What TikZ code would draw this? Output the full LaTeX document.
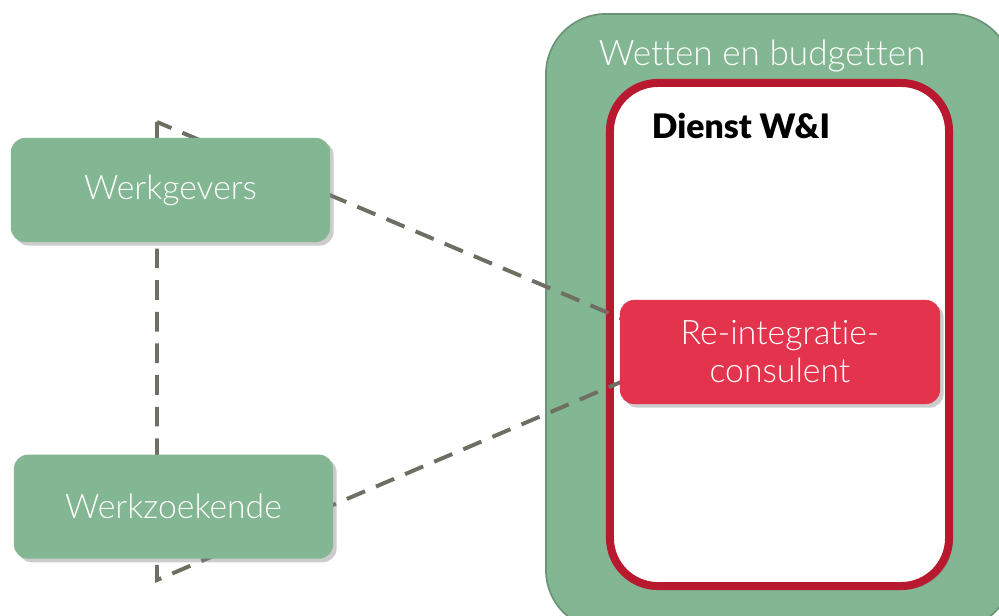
\documentclass[tikz,border=0pt]{standalone}
\usepackage{fontspec}
\setmainfont{Lato}[UprightFont=* Light, BoldFont=* Black, Ligatures=NoCommon]
\usetikzlibrary{positioning,shadows}

\definecolor{groen}{HTML}{83B692}
\definecolor{donkergroen}{HTML}{6B9477}
\definecolor{bordeaux}{HTML}{B8192F}
\definecolor{rood}{HTML}{E4334C}
\definecolor{lijn}{HTML}{6F6E62}

\tikzstyle{schaduw} = [drop shadow={shadow xshift=0.09cm, shadow yshift=-0.09cm, opacity=0.4}]
\tikzstyle{block} = [rectangle, fill=groen, text=white, schaduw,
    rounded corners=0.35cm, minimum width=7.975cm, minimum height=2.6cm,
    align=center, font=\fontsize{24}{27}\selectfont]
\tikzstyle{kader} = [rectangle, fill=groen, draw=donkergroen, line width=1.2pt,
    rounded corners=1.5cm, minimum width=11.65cm, minimum height=15.4cm]
\tikzstyle{dienstkader} = [rectangle, fill=white, draw=bordeaux, line width=0.2cm,
    rounded corners=1.2cm, minimum width=8.475cm, minimum height=12.575cm, schaduw]
\tikzstyle{stippel} = [draw=lijn, line width=2.8pt, dash pattern=on 14pt off 8.5pt]

\begin{document}
\begin{tikzpicture}[x=0.025cm, y=-0.025cm]
  \useasboundingbox (0,0) rectangle (999,616);
  \clip (0,0) rectangle (999,616);

  \node [kader] (wetten) at (779,322) {};
  \node [text=white, font=\fontsize{25}{30}\selectfont] (wettennaam) at (762,56) {Wetten en budgetten};
  \node [dienstkader] (dienst) at (779.5,334.5) {};
  \node [anchor=west, font=\fontsize{24}{30}\selectfont\bfseries] (dienstnaam) at (647,126) {Dienst W\&I};

  % driehoek achter de blokken
  \coordinate (boven) at (157,122);
  \coordinate (onder) at (157,580);
  \coordinate (punt) at (696,350);
  \draw [stippel] (boven) -- (onder) -- (punt) -- cycle;

  \node [block] (werkgevers) at (170.5,190) {Werkgevers};
  \node [block, below=5.3cm of werkgevers.south, anchor=north, xshift=0.075cm] (werkzoekende) {Werkzoekende};
  \node [block, fill=rood, minimum width=8cm] (consulent) at (780,352) {Re-integratie-\\consulent};
\end{tikzpicture}
\end{document}
